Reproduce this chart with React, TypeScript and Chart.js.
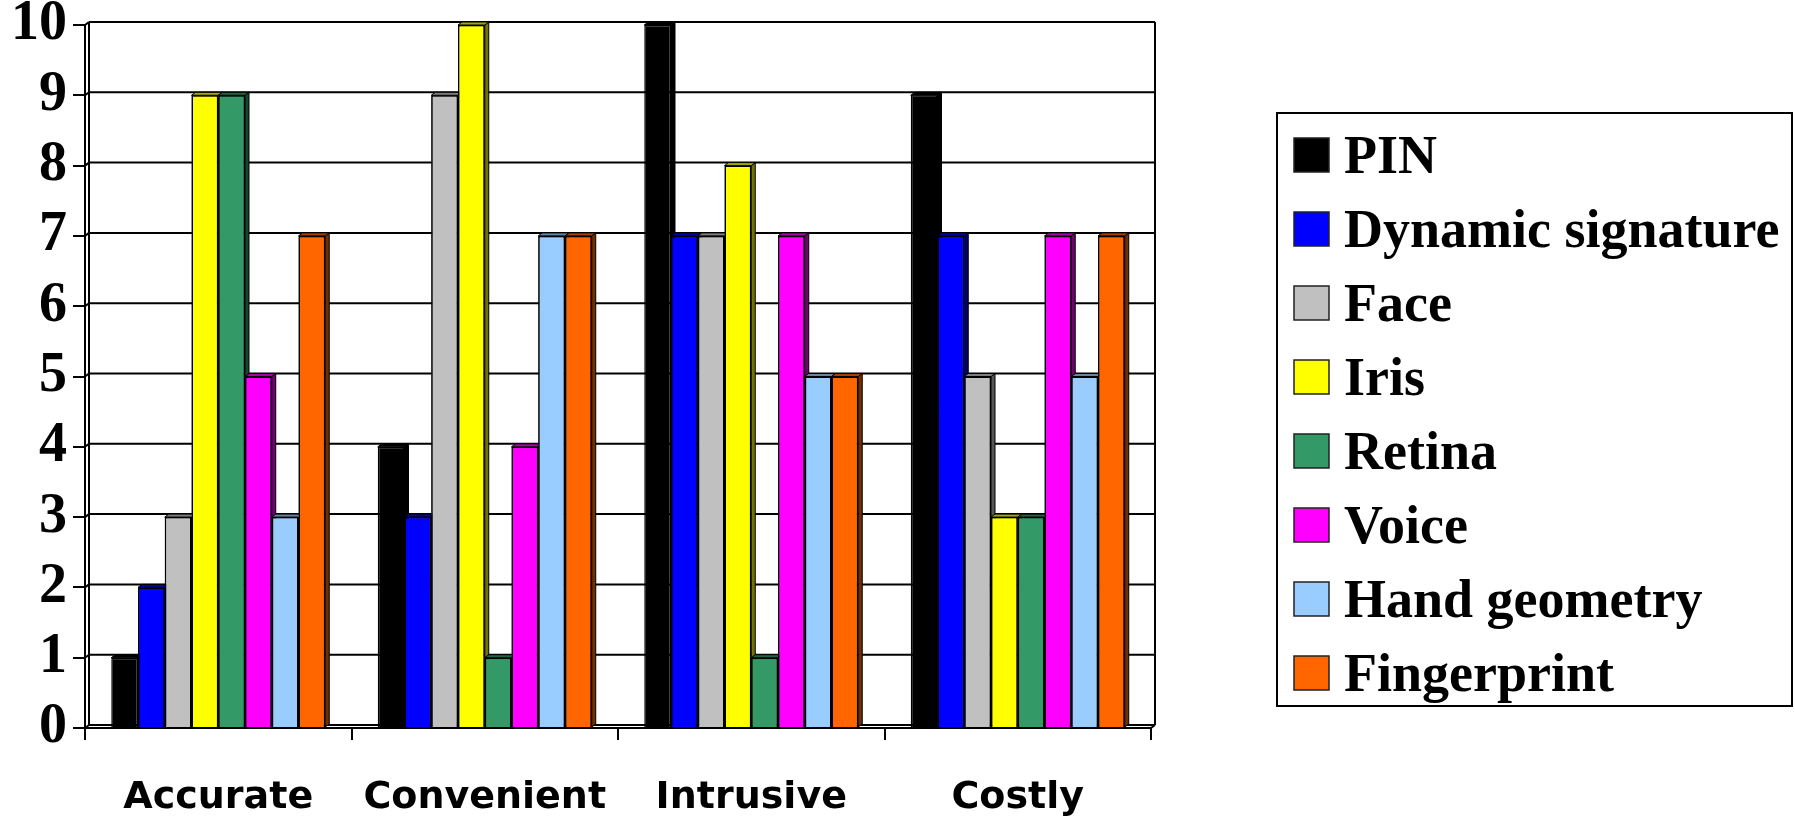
import { useEffect, useRef } from "react";
import { Chart, registerables } from "chart.js";

Chart.register(...registerables);

const categories = ["Accurate", "Convenient", "Intrusive", "Costly"];
const seriesNames = [
  "PIN",
  "Dynamic signature",
  "Face",
  "Iris",
  "Retina",
  "Voice",
  "Hand geometry",
  "Fingerprint",
];
const pinValues = [1, 4, 10, 9];
const dynamicSignatureValues = [2, 3, 7, 7];
const faceValues = [3, 9, 7, 5];
const irisValues = [9, 10, 8, 3];
const retinaValues = [9, 1, 1, 3];
const voiceValues = [5, 4, 7, 7];
const handGeometryValues = [3, 7, 5, 5];
const fingerprintValues = [7, 7, 5, 7];
const seriesColors = [
  "#000000",
  "#0000FF",
  "#C0C0C0",
  "#FFFF00",
  "#339966",
  "#FF00FF",
  "#99CCFF",
  "#FF6600",
];
const yMin = 0;
const yMax = 10;
const yStep = 1;

const seriesValues = [
  pinValues,
  dynamicSignatureValues,
  faceValues,
  irisValues,
  retinaValues,
  voiceValues,
  handGeometryValues,
  fingerprintValues,
];

const DX = 4;
const DY = 3;

function shade(hex: string, f: number): string {
  const n = parseInt(hex.slice(1), 16);
  const r = Math.round(((n >> 16) & 255) * f);
  const g = Math.round(((n >> 8) & 255) * f);
  const b = Math.round((n & 255) * f);
  return `rgb(${r},${g},${b})`;
}

const wallPlugin = {
  id: "wall",
  beforeDatasetsDraw(chart: any) {
    const { ctx, chartArea: a } = chart;
    const ys = chart.scales.y;
    ctx.save();
    ctx.strokeStyle = "#000";
    ctx.lineWidth = 2;
    const line = (x1: number, y1: number, x2: number, y2: number) => {
      ctx.beginPath();
      ctx.moveTo(x1, y1);
      ctx.lineTo(x2, y2);
      ctx.stroke();
    };
    for (const t of ys.ticks) {
      const py = ys.getPixelForValue(t.value);
      line(a.left, py, a.left + DX, py - DY);
      line(a.left + DX, py - DY, a.right + DX, py - DY);
    }
    line(a.left + DX, a.top - DY, a.left + DX, a.bottom - DY);
    line(a.right + DX, a.top - DY, a.right + DX, a.bottom - DY);
    line(a.right, a.bottom, a.right + DX, a.bottom - DY);
    ctx.restore();
  },
};

const depthPlugin = {
  id: "depth",
  afterDatasetsDraw(chart: any) {
    const { ctx } = chart;
    const n = chart.data.datasets.length;
    ctx.save();
    for (let i = 0; i < n; i++) {
      const meta = chart.getDatasetMeta(i);
      if (i > 0) meta.data.forEach((el: any) => el.draw(ctx, chart.chartArea));
      const col = seriesColors[i];
      meta.data.forEach((el: any) => {
        const { x, y, base, width } = el.getProps(["x", "y", "base", "width"], true);
        if (base - y < 0.5) return;
        const l = x - width / 2;
        const r = x + width / 2;
        ctx.lineWidth = 1;
        ctx.strokeStyle = "#000";
        ctx.fillStyle = shade(col, 0.45);
        ctx.beginPath();
        ctx.moveTo(r, y);
        ctx.lineTo(r + DX, y - DY);
        ctx.lineTo(r + DX, base - DY);
        ctx.lineTo(r, base);
        ctx.closePath();
        ctx.fill();
        ctx.stroke();
        ctx.fillStyle = shade(col, 0.65);
        ctx.beginPath();
        ctx.moveTo(l, y);
        ctx.lineTo(l + DX, y - DY);
        ctx.lineTo(r + DX, y - DY);
        ctx.lineTo(r, y);
        ctx.closePath();
        ctx.fill();
        ctx.stroke();
      });
    }
    ctx.restore();
  },
};

const legendPlugin = {
  id: "boxLegend",
  afterDraw(chart: any) {
    const { ctx } = chart;
    ctx.save();
    ctx.strokeStyle = "#000";
    ctx.lineWidth = 2;
    ctx.strokeRect(1277, 113, 515, 593);
    ctx.font = "bold 54px 'Liberation Serif'";
    ctx.textAlign = "left";
    ctx.textBaseline = "alphabetic";
    chart.data.datasets.forEach((ds: any, i: number) => {
      const cy = 155 + 74 * i;
      ctx.fillStyle = ds.backgroundColor;
      ctx.fillRect(1294, cy - 17, 35, 34);
      ctx.lineWidth = 1.5;
      ctx.strokeStyle = "#222";
      ctx.strokeRect(1294, cy - 17, 35, 34);
      ctx.fillStyle = "#000";
      ctx.fillText(ds.label, 1344, cy + 18);
    });
    ctx.restore();
  },
};

export default function App() {
  const ref = useRef<HTMLCanvasElement | null>(null);
  useEffect(() => {
    if (!ref.current) return;
    const chart = new Chart(ref.current, {
      type: "bar",
      data: {
        labels: categories,
        datasets: seriesNames.map((name, i) => ({
          label: name,
          data: seriesValues[i],
          backgroundColor: seriesColors[i],
          borderColor: "#000",
          borderWidth: 1.5,
          categoryPercentage: 0.803,
          barPercentage: 1.0,
        })),
      },
      options: {
        animation: false,
        responsive: true,
        maintainAspectRatio: false,
        layout: { padding: { top: 25, right: 644, bottom: 0, left: 0 } },
        plugins: {
          legend: { display: false },
          tooltip: { enabled: false },
        },
        scales: {
          x: {
            grid: {
              display: true,
              drawOnChartArea: false,
              drawTicks: true,
              tickLength: 12,
              color: "#000",
              lineWidth: 2,
              offset: true,
            },
            border: { display: true, color: "#000", width: 2 },
            ticks: {
              font: { family: "'DejaVu Sans'", weight: "bold", size: 38 },
              color: "#000",
              padding: 35,
            },
            afterFit: (s: any) => {
              s.height = 91;
              s.paddingLeft = 0;
              s.paddingRight = 0;
            },
          },
          y: {
            min: yMin,
            max: yMax,
            ticks: {
              stepSize: yStep,
              font: { family: "'Liberation Serif'", weight: "bold", size: 56 },
              color: "#000",
              padding: 6,
            },
            grid: {
              drawOnChartArea: false,
              drawTicks: true,
              tickLength: 12,
              color: "#000",
              lineWidth: 2,
            },
            border: { display: true, color: "#000", width: 2 },
            afterFit: (s: any) => {
              s.width = 85;
              s.paddingTop = 0;
              s.paddingBottom = 0;
            },
          },
        },
      },
      plugins: [wallPlugin, depthPlugin, legendPlugin],
    });
    return () => chart.destroy();
  }, []);
  return (
    <div style={{ position: "fixed", left: 0, top: 0, width: 1795, height: 819, background: "#fff" }}>
      <canvas ref={ref} />
    </div>
  );
}
